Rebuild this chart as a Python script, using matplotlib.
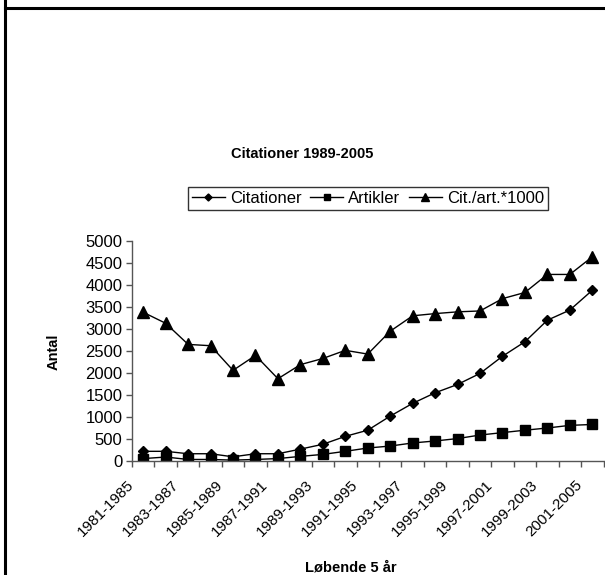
import numpy as np
import matplotlib
matplotlib.use("Agg")
import matplotlib.pyplot as plt
import matplotlib.transforms as mtransforms
from matplotlib.lines import Line2D

plt.rcParams['font.family'] = ['Liberation Sans', 'DejaVu Sans']

# rolling 5-year windows
perioder = ["%d-%d" % (y, y + 4) for y in range(1981, 2002)]

citationer = [220, 220, 165, 165, 95, 165, 165, 270, 380, 560, 700,
              1020, 1310, 1550, 1740, 1990, 2380, 2710, 3200, 3430, 3880]
artikler = [55, 90, 35, 35, 20, 35, 55, 105, 150, 220, 295,
            340, 410, 455, 510, 590, 645, 700, 750, 810, 830]
cit_pr_art = [3380, 3130, 2650, 2620, 2060, 2400, 1870, 2190, 2330, 2515, 2430,
              2950, 3300, 3350, 3390, 3410, 3690, 3830, 4240, 4240, 4640]

W, H = 605, 575
fig = plt.figure(figsize=(W / 100, H / 100), dpi=100)
ax = fig.add_axes([132 / W, 1 - 461 / H, 471.5 / W, 220 / H])

x = np.arange(len(perioder))
ax.plot(x, citationer, color='black', lw=1, marker='D', ms=5.5, label='Citationer')
ax.plot(x, artikler, color='black', lw=1, marker='s', ms=7, label='Artikler')
ax.plot(x, cit_pr_art, color='black', lw=1, marker='^', ms=8, label='Cit./art.*1000')

ax.set_xlim(-0.5, len(perioder) - 0.5)
ax.set_ylim(0, 5000)
ax.set_yticks(np.arange(0, 5001, 500))
ax.tick_params(axis='y', labelsize=12, length=4, width=1, color='#555555', pad=3)

# tick marks between categories, labels on every other category
ax.set_xticks(np.arange(-0.5, len(perioder), 1.0), minor=False)
ax.set_xticklabels([])
ax.tick_params(axis='x', length=4, width=1, color='#555555', direction='out')
ax.set_xticks(x[::2], minor=True)
ax.set_xticklabels(perioder[::2], minor=True, rotation=45, ha='right',
                   rotation_mode='anchor', fontsize=11)
ax.tick_params(axis='x', which='minor', length=0, pad=6)
shift = mtransforms.ScaledTranslation(-17 / 100, -8 / 100, fig.dpi_scale_trans)
for lbl in ax.get_xticklabels(minor=True):
    lbl.set_transform(lbl.get_transform() + shift)

for s in ['top', 'right']:
    ax.spines[s].set_visible(False)
for s in ['left', 'bottom']:
    ax.spines[s].set_color('#555555')
    ax.spines[s].set_linewidth(1)

ax.set_ylabel('Antal', fontsize=10.5, fontweight='bold')
ax.yaxis.set_label_coords((54 - 132) / 471.5, (461 - 352) / 220)
ax.yaxis.label.set_va('center')
ax.set_xlabel('Løbende 5 år', fontsize=10.5, fontweight='bold')
ax.xaxis.set_label_coords((351 - 132) / 471.5, -(567 - 461) / 220)
ax.xaxis.label.set_va('center')

fig.text(302 / W, 1 - 154 / H, 'Citationer 1989-2005', ha='center', va='center',
         fontsize=10.5, fontweight='bold')

leg = fig.legend(loc='center', bbox_to_anchor=(368 / W, 1 - 198.5 / H), ncol=3,
                 fontsize=12, frameon=True, fancybox=False, markerscale=0.65,
                 handlelength=2.0, columnspacing=0.5, handletextpad=0.3,
                 borderpad=0.25, borderaxespad=0)
leg.get_frame().set_edgecolor('black')
leg.get_frame().set_linewidth(1)

# outer frame lines
fig.add_artist(Line2D([5 / W, 1], [1 - 8 / H, 1 - 8 / H], color='black', lw=2.2,
                      transform=fig.transFigure))
fig.add_artist(Line2D([5 / W, 5 / W], [0, 1], color='black', lw=2.2,
                      transform=fig.transFigure))

fig.savefig('out.png', dpi=100)
